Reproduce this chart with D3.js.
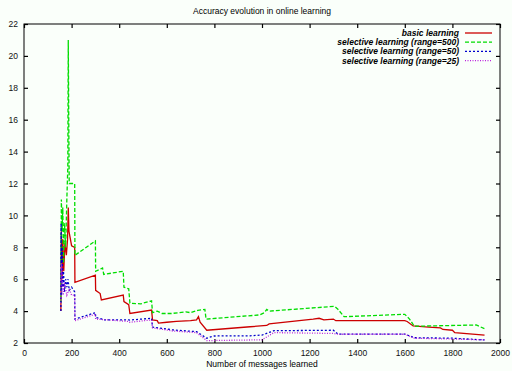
<!DOCTYPE html>
<html>
<head>
    <meta charset="utf-8">
    <title>Accuracy evolution in online learning</title>
    <script src="https://d3js.org/d3.v7.min.js"></script>
    <style>
        body { margin: 0; background: #fafffa; }
        text { font-family: "Liberation Sans", Arial, sans-serif; }
    </style>
</head>
<body>
<script>
// x ticks / y ticks
var xTicks = [0, 200, 400, 600, 800, 1000, 1200, 1400, 1600, 1800, 2000];
var yTicks = [2, 4, 6, 8, 10, 12, 14, 16, 18, 20, 22];

// each series: [messages learned, accuracy value]
var basic = [[155,4],[157,9],[160,6],[163,8.5],[167,6.5],[172,8.3],[178,7.5],[183,8.5],[186,10.5],[189,9],[200,8.1],[213,8.0],[214,5.8],
    [300,6.25],[301,5.3],[320,5.1],[325,4.7],[417,5.0],[420,4.6],[440,4.4],[445,3.85],[536,4.07],[540,3.45],[560,3.4],[565,3.25],
    [600,3.3],[640,3.35],[700,3.4],[725,3.45],[733,3.65],[740,3.3],[768,2.8],[950,3.02],[1020,3.1],[1030,3.2],[1215,3.5],
    [1240,3.55],[1260,3.45],[1300,3.5],[1310,3.4],[1600,3.4],[1610,3.35],[1635,3.07],[1700,3.0],[1750,2.95],[1760,2.85],
    [1800,2.8],[1810,2.65],[1935,2.5]];
var range500 = [[155,4.5],[157,11],[160,9],[163,10.5],[166,7],[170,9.5],[175,8],[180,11],[184,13],[186,21],[188,16],[190,12],[213,12],
    [214,7.5],[300,8.4],[301,6.5],[330,6.7],[335,6.3],[417,6.5],[420,5.5],[440,5.4],[445,4.5],[490,4.45],[536,4.65],[540,3.9],
    [560,4.0],[580,3.85],[620,3.85],[650,3.9],[680,3.95],[700,3.9],[730,4.05],[760,4.1],[765,3.5],[990,3.76],[1010,3.9],
    [1020,4.1],[1030,4.0],[1305,4.3],[1320,4.1],[1345,3.65],[1600,3.8],[1620,3.5],[1640,3.05],[1900,3.13],[1935,2.9]];
var range50 = [[155,4],[156,9.5],[158,5],[160,8],[163,5.5],[166,6.5],[170,5.2],[175,6],[180,5.5],[185,6],[190,5.3],[200,5.5],
    [213,5.2],[214,3.5],[300,3.9],[301,3.6],[330,3.5],[335,3.45],[440,3.45],[445,3.44],[536,3.55],[540,3.0],[626,2.82],
    [725,2.71],[768,2.3],[780,2.36],[800,2.44],[950,2.45],[1000,2.5],[1050,2.77],[1300,2.8],[1320,2.56],[1600,2.56],
    [1640,2.33],[1800,2.3],[1935,2.19]];
var range25 = [[155,4.5],[157,7],[160,6],[165,5],[170,5.8],[180,5],[190,5.4],[200,5],[213,5],[214,3.4],[300,3.8],[301,3.5],
    [440,3.35],[445,3.3],[536,3.45],[540,2.95],[626,2.75],[725,2.65],[768,2.15],[1000,2.2],[1050,2.65],[1300,2.6],
    [1320,2.55],[1600,2.55],[1640,2.3],[1800,2.25],[1935,2.2]];

var names = ["basic learning", "selective learning (range=500)", "selective learning (range=50)", "selective learning (range=25)"];
var colors = ["#cc0000", "#00dd00", "#0000cc", "#bb22dd"];
var dashes = [null, "4,2", "2,2", "1,1.5"];
var seriesData = [basic, range500, range50, range25];

var w = 512, h = 371;
var mLeft = 24, mRight = 500, mTop = 24, mBottom = 343;

var svg = d3.select("body").append("svg")
    .attr("width", w)
    .attr("height", h);

svg.append("rect")
    .attr("width", w).attr("height", h)
    .attr("fill", "#fafffa");

var x = d3.scaleLinear().domain([0, 2000]).range([mLeft, mRight]);
var y = d3.scaleLinear().domain([2, 22]).range([mBottom, mTop]);

// title
svg.append("text")
    .text("Accuracy evolution in online learning")
    .attr("x", 262).attr("y", 14)
    .attr("text-anchor", "middle")
    .attr("font-size", "8.5px");

// axes, ticks pointing inward like gnuplot
svg.append("g")
    .attr("transform", "translate(0," + mBottom + ")")
    .call(d3.axisBottom(x).tickValues(xTicks).tickSize(-4).tickPadding(7).tickSizeOuter(0).tickFormat(d3.format("d")));
svg.append("g")
    .attr("transform", "translate(" + mLeft + ",0)")
    .call(d3.axisLeft(y).tickValues(yTicks).tickSize(-4).tickPadding(6).tickSizeOuter(0).tickFormat(d3.format("d")));
svg.append("g")
    .attr("transform", "translate(0," + mTop + ")")
    .call(d3.axisTop(x).tickValues(xTicks).tickSize(-4).tickFormat("").tickSizeOuter(0));
svg.append("g")
    .attr("transform", "translate(" + mRight + ",0)")
    .call(d3.axisRight(y).tickValues(yTicks).tickSize(-4).tickFormat("").tickSizeOuter(0));

svg.selectAll(".domain").remove();
svg.selectAll(".tick line").attr("stroke", "#000").attr("stroke-width", 1.2);
svg.selectAll(".tick text")
    .attr("font-size", "8.5px")
    .attr("font-family", "Liberation Sans, Arial, sans-serif")
    .attr("fill", "#111");

// frame
svg.append("rect")
    .attr("x", mLeft).attr("y", mTop)
    .attr("width", mRight - mLeft).attr("height", mBottom - mTop)
    .attr("fill", "none")
    .attr("stroke", "#000")
    .attr("stroke-width", 1);

svg.append("text")
    .text("Number of messages learned")
    .attr("x", 262).attr("y", 367)
    .attr("text-anchor", "middle")
    .attr("font-size", "8.5px");

// series lines
var line = d3.line()
    .x(function(d){ return x(d[0]); })
    .y(function(d){ return y(d[1]); });

svg.selectAll("path.series")
    .data(seriesData)
    .enter()
    .append("path")
    .attr("class", "series")
    .attr("d", line)
    .attr("fill", "none")
    .attr("stroke", function(d, i){ return colors[i]; })
    .attr("stroke-width", 1.3)
    .attr("stroke-dasharray", function(d, i){ return dashes[i]; });

// legend, top right
var legend = svg.selectAll("g.legend")
    .data(names)
    .enter()
    .append("g")
    .attr("class", "legend")
    .attr("transform", function(d, i){ return "translate(0," + (33 + i * 9.2) + ")"; });

legend.append("text")
    .text(function(d){ return d; })
    .attr("x", 459)
    .attr("y", 3)
    .attr("text-anchor", "end")
    .attr("font-size", "8.5px")
    .attr("font-style", "italic")
    .attr("font-weight", "bold");

legend.append("line")
    .attr("x1", 465).attr("x2", 492)
    .attr("y1", 0).attr("y2", 0)
    .attr("stroke", function(d, i){ return colors[i]; })
    .attr("stroke-width", 1.3)
    .attr("stroke-dasharray", function(d, i){ return dashes[i]; });
</script>
</body>
</html>
